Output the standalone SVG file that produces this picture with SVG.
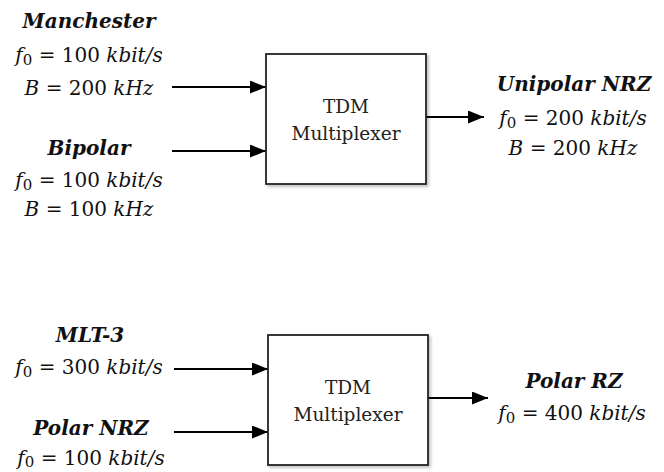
<svg xmlns="http://www.w3.org/2000/svg" width="664" height="472" viewBox="0 0 664 472">
<defs>
<marker id="ah" markerUnits="userSpaceOnUse" markerWidth="17" markerHeight="13" refX="16" refY="6.5" orient="auto">
<path d="M0,0 L16,6.5 L0,13 z" fill="#000"/>
</marker>
<filter id="sh" x="-10%" y="-10%" width="130%" height="130%">
<feGaussianBlur in="SourceAlpha" stdDeviation="1.5"/>
<feOffset dx="2" dy="2" result="b"/>
<feComponentTransfer><feFuncA type="linear" slope="0.25"/></feComponentTransfer>
<feMerge><feMergeNode/><feMergeNode in="SourceGraphic"/></feMerge>
</filter>
</defs>
<style>
.t{font-family:"DejaVu Serif","Liberation Serif",serif;font-size:20px;fill:#111;text-anchor:middle}
.h{font-weight:bold;font-style:italic}
.i{font-style:italic}
.s{font-size:15px}
.box{fill:#fff;stroke:#222;stroke-width:1.8;filter:url(#sh)}
.c{stroke:#000;stroke-width:2.2;fill:none;marker-end:url(#ah)}
.bt{font-family:"DejaVu Serif","Liberation Serif",serif;font-size:18.5px;fill:#222;text-anchor:middle}
</style>
<rect width="664" height="472" fill="#fff"/>

<g id="connectors">
<line class="c" x1="172" y1="87" x2="266" y2="87"/>
<line class="c" x1="172" y1="151" x2="266" y2="151"/>
<line class="c" x1="426" y1="117" x2="484" y2="117"/>
<line class="c" x1="174" y1="369" x2="268" y2="369"/>
<line class="c" x1="174" y1="432" x2="268" y2="432"/>
<line class="c" x1="428" y1="398" x2="488" y2="398"/>
</g>

<g id="mux1">
<rect class="box" x="266" y="54" width="160" height="130"/>
<text class="bt" x="346" y="113">TDM</text>
<text class="bt" x="346" y="140">Multiplexer</text>
</g>

<g id="mux2">
<rect class="box" x="268" y="335" width="160" height="130"/>
<text class="bt" x="348" y="394">TDM</text>
<text class="bt" x="348" y="421">Multiplexer</text>
</g>

<g id="manchester">
<text class="t h" x="89" y="28">Manchester</text>
<text class="t" x="89" y="62"><tspan class="i">f</tspan><tspan class="s" dy="3">0</tspan><tspan dy="-3"> = 100 </tspan><tspan class="i">kbit/s</tspan></text>
<text class="t" x="89" y="95"><tspan class="i">B</tspan> = 200 <tspan class="i">kHz</tspan></text>
</g>

<g id="bipolar">
<text class="t h" x="89" y="155">Bipolar</text>
<text class="t" x="89" y="187"><tspan class="i">f</tspan><tspan class="s" dy="3">0</tspan><tspan dy="-3"> = 100 </tspan><tspan class="i">kbit/s</tspan></text>
<text class="t" x="89" y="216"><tspan class="i">B</tspan> = 100 <tspan class="i">kHz</tspan></text>
</g>

<g id="unipolar-nrz">
<text class="t h" x="574" y="91">Unipolar NRZ</text>
<text class="t" x="573" y="125"><tspan class="i">f</tspan><tspan class="s" dy="3">0</tspan><tspan dy="-3"> = 200 </tspan><tspan class="i">kbit/s</tspan></text>
<text class="t" x="573" y="155"><tspan class="i">B</tspan> = 200 <tspan class="i">kHz</tspan></text>
</g>

<g id="mlt3">
<text class="t h" x="90" y="342">MLT-3</text>
<text class="t" x="89" y="374"><tspan class="i">f</tspan><tspan class="s" dy="3">0</tspan><tspan dy="-3"> = 300 </tspan><tspan class="i">kbit/s</tspan></text>
</g>

<g id="polar-nrz">
<text class="t h" x="91" y="435">Polar NRZ</text>
<text class="t" x="91" y="465"><tspan class="i">f</tspan><tspan class="s" dy="2">0</tspan><tspan dy="-2"> = 100 </tspan><tspan class="i">kbit/s</tspan></text>
</g>

<g id="polar-rz">
<text class="t h" x="574" y="388">Polar RZ</text>
<text class="t" x="572" y="420"><tspan class="i">f</tspan><tspan class="s" dy="3">0</tspan><tspan dy="-3"> = 400 </tspan><tspan class="i">kbit/s</tspan></text>
</g>
</svg>
